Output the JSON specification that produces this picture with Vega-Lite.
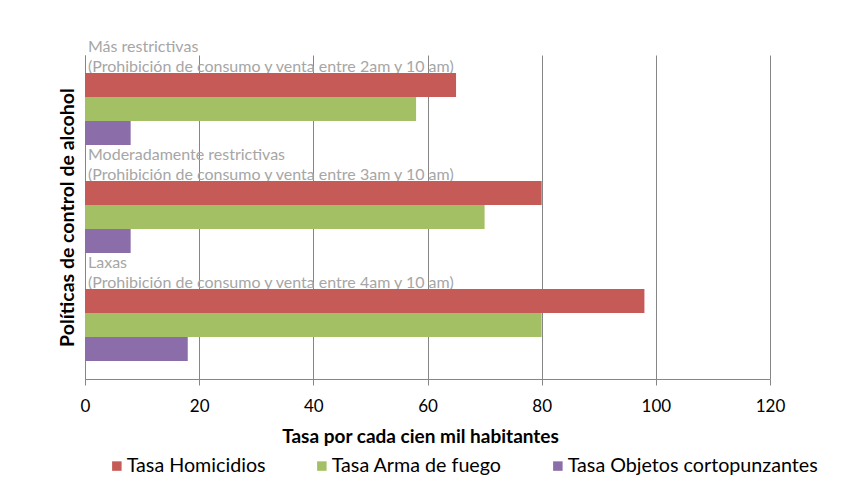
{
  "$schema": "https://vega.github.io/schema/vega-lite/v6.json",
  "width": 685,
  "height": 324,
  "autosize": {"type": "none"},
  "padding": {"left": 85, "top": 55, "right": 97, "bottom": 115},
  "background": "white",
  "config": {"font": "Lato", "view": {"stroke": null}},
  "data": {
    "values": [
      {"politica": "Más restrictivas\n(Prohibición de consumo y venta entre 2am y 10 am)", "serie": "Tasa Homicidios", "valor": 65},
      {"politica": "Más restrictivas\n(Prohibición de consumo y venta entre 2am y 10 am)", "serie": "Tasa Arma de fuego", "valor": 58},
      {"politica": "Más restrictivas\n(Prohibición de consumo y venta entre 2am y 10 am)", "serie": "Tasa Objetos cortopunzantes", "valor": 8},
      {"politica": "Moderadamente restrictivas\n(Prohibición de consumo y venta entre 3am y 10 am)", "serie": "Tasa Homicidios", "valor": 80},
      {"politica": "Moderadamente restrictivas\n(Prohibición de consumo y venta entre 3am y 10 am)", "serie": "Tasa Arma de fuego", "valor": 70},
      {"politica": "Moderadamente restrictivas\n(Prohibición de consumo y venta entre 3am y 10 am)", "serie": "Tasa Objetos cortopunzantes", "valor": 8},
      {"politica": "Laxas\n(Prohibición de consumo y venta entre 4am y 10 am)", "serie": "Tasa Homicidios", "valor": 98},
      {"politica": "Laxas\n(Prohibición de consumo y venta entre 4am y 10 am)", "serie": "Tasa Arma de fuego", "valor": 80},
      {"politica": "Laxas\n(Prohibición de consumo y venta entre 4am y 10 am)", "serie": "Tasa Objetos cortopunzantes", "valor": 18}
    ]
  },
  "encoding": {
    "y": {
      "field": "politica",
      "type": "nominal",
      "sort": null,
      "scale": {"paddingInner": 0.3333, "paddingOuter": 0.1667},
      "axis": {
        "title": "Políticas de control de alcohol",
        "labels": false,
        "ticks": false,
        "domain": true,
        "domainColor": "#868686",
        "titleFontSize": 19.5,
        "titleFontWeight": "bold",
        "titleColor": "#000000",
        "titlePadding": 8
      }
    }
  },
  "layer": [
    {
      "transform": [{"filter": "datum.serie === 'Tasa Homicidios'"}],
      "mark": {
        "type": "text",
        "align": "left",
        "baseline": "middle",
        "dx": 3,
        "dy": -62,
        "lineBreak": "\n",
        "lineHeight": 20,
        "fontSize": 16,
        "limit": 0,
        "color": "#A6A6A6"
      },
      "encoding": {
        "x": {"datum": 0, "type": "quantitative"},
        "text": {"field": "politica"}
      }
    },
    {
      "mark": {"type": "bar"},
      "encoding": {
        "x": {
          "field": "valor",
          "type": "quantitative",
          "scale": {"domain": [0, 120], "nice": false},
          "axis": {
            "title": "Tasa por cada cien mil habitantes",
            "values": [0, 20, 40, 60, 80, 100, 120],
            "grid": true,
            "gridColor": "#868686",
            "domainColor": "#868686",
            "tickColor": "#868686",
            "tickSize": 6,
            "labelFontSize": 17,
            "labelColor": "#000000",
            "labelPadding": 13,
            "labelFlush": false,
            "titleFontSize": 19,
            "titleFontWeight": "bold",
            "titleColor": "#000000",
            "titlePadding": 13,
            "titleX": 335
          }
        },
        "yOffset": {
          "field": "serie",
          "sort": ["Tasa Homicidios", "Tasa Arma de fuego", "Tasa Objetos cortopunzantes"],
          "scale": {"paddingInner": 0, "paddingOuter": 0}
        },
        "color": {
          "field": "serie",
          "type": "nominal",
          "sort": ["Tasa Homicidios", "Tasa Arma de fuego", "Tasa Objetos cortopunzantes"],
          "scale": {"range": ["#C65A57", "#A3C164", "#8B6DA9"]},
          "legend": {
            "orient": "none",
            "legendX": 22,
            "legendY": 401,
            "direction": "horizontal",
            "title": null,
            "symbolType": "square",
            "symbolSize": 90,
            "symbolStrokeWidth": 0,
            "labelFontSize": 19.7,
            "labelLimit": 0,
            "labelOffset": 0,
            "labelColor": "#000000",
            "columnPadding": 46
          }
        }
      }
    }
  ]
}
